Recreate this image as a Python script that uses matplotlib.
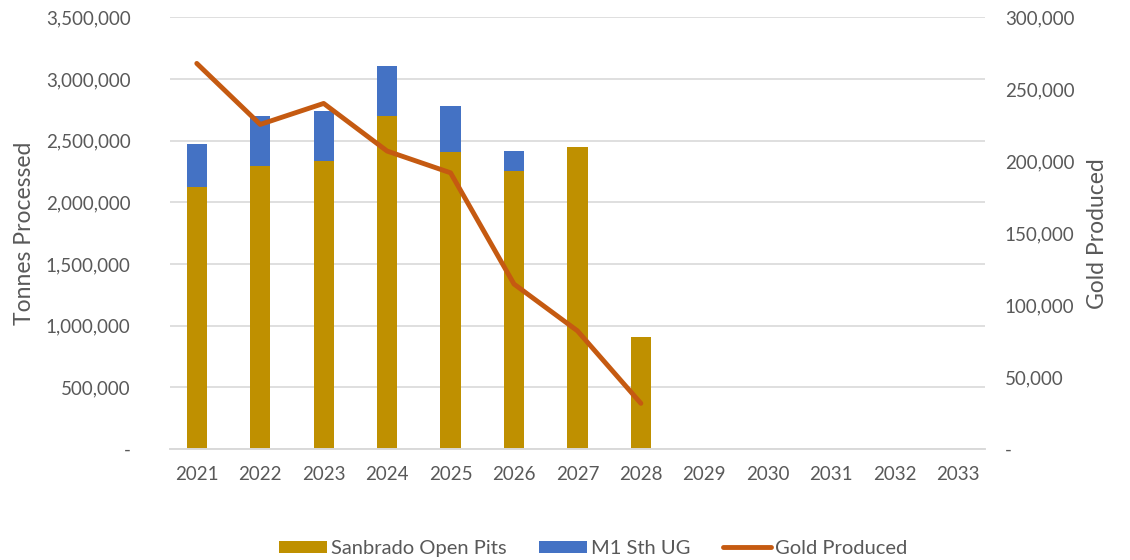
import matplotlib
matplotlib.use("Agg")
import matplotlib.pyplot as plt
import numpy as np
from matplotlib.ticker import FuncFormatter

years = ["2021", "2022", "2023", "2024", "2025", "2026", "2027", "2028",
         "2029", "2030", "2031", "2032", "2033"]
open_pits = [2127000, 2295000, 2333000, 2698000, 2411000, 2257000, 2446000, 906000,
             0, 0, 0, 0, 0]
m1_ug = [343000, 407000, 407000, 407000, 368000, 157000, 0, 0,
         0, 0, 0, 0, 0]
gold = [268000, 225600, 240200, 207100, 192000, 114700, 82200, 31800]

GOLD_C = "#BF9000"
BLUE_C = "#4472C4"
ORANGE_C = "#C55A11"
TXT = "#595959"
GRID = "#D9D9D9"

plt.rcParams["font.family"] = ["Lato", "DejaVu Sans"]

fig = plt.figure(figsize=(11.3, 5.6), dpi=100)
ax = fig.add_axes([0.150, 0.198, 0.722, 0.771])
ax2 = ax.twinx()

x = np.arange(len(years))
w = 0.32
ax.bar(x, open_pits, w, color=GOLD_C, label="Sanbrado Open Pits", zorder=2)
ax.bar(x, m1_ug, w, bottom=open_pits, color=BLUE_C, label="M1 Sth UG", zorder=2)
ax2.plot(x[:len(gold)], gold, color=ORANGE_C, lw=3.5, solid_capstyle="round",
         label="Gold Produced", zorder=3)

ax.set_xlim(-0.43, len(years) - 0.57)
ax.set_ylim(0, 3500000)
ax2.set_ylim(0, 300000)
ax.set_yticks(np.arange(0, 3500001, 500000))
ax2.set_yticks(np.arange(0, 300001, 50000))

fmt = FuncFormatter(lambda v, p: "-" if v == 0 else f"{int(v):,}")
ax.yaxis.set_major_formatter(fmt)
ax2.yaxis.set_major_formatter(fmt)

ax.set_xticks(x)
ax.set_xticklabels(years)

ax.grid(axis="y", color=GRID, lw=1.2, zorder=0)
ax.set_axisbelow(True)
for a in (ax, ax2):
    for s in ("top", "left", "right"):
        a.spines[s].set_visible(False)
    a.spines["bottom"].set_color(GRID)
    a.spines["bottom"].set_linewidth(1.2)
    a.tick_params(length=0, colors=TXT, labelsize=13.5)
ax.tick_params(axis="y", pad=28)
ax2.tick_params(axis="y", pad=14)
ax.tick_params(axis="x", pad=12)

ax.set_ylabel("Tonnes Processed", color=TXT, fontsize=16.5, labelpad=8)
ax2.set_ylabel("Gold Produced", color=TXT, fontsize=16.5, labelpad=9)

h1, l1 = ax.get_legend_handles_labels()
h2, l2 = ax2.get_legend_handles_labels()
fig.legend(h1 + h2, l1 + l2, loc="lower center", bbox_to_anchor=(0.525, -0.027),
           ncol=3, frameon=False, fontsize=14.5, labelcolor=TXT,
           handlelength=2.4, handleheight=0.6, handletextpad=0.2, columnspacing=1.6)

fig.savefig("out.png", dpi=100)
